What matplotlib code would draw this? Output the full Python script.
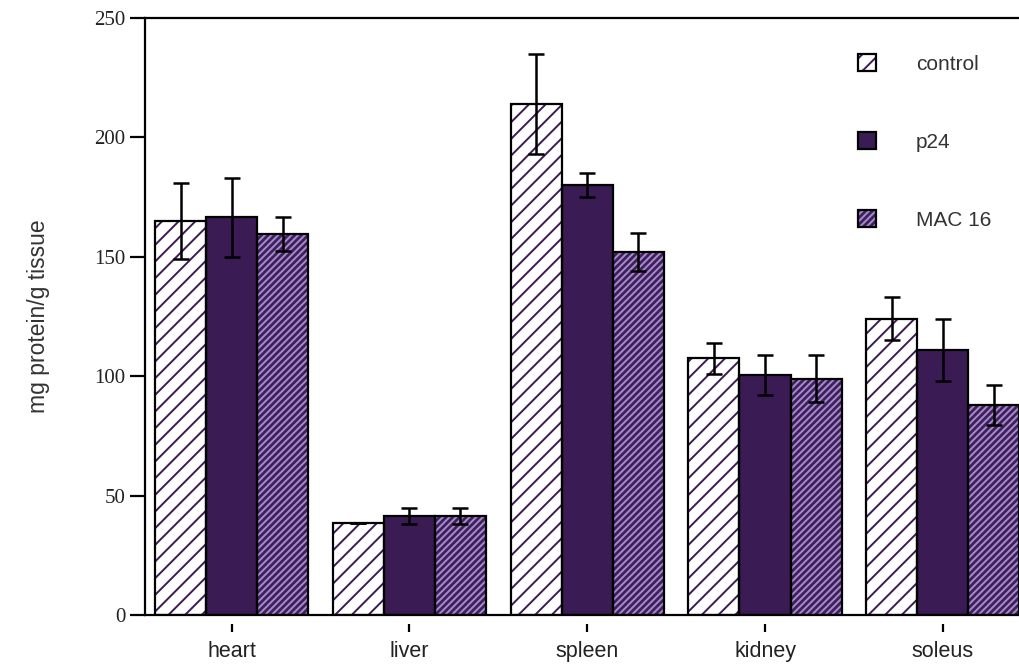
import matplotlib
matplotlib.use("Agg")
import matplotlib.pyplot as plt
import matplotlib.transforms as mtransforms
import numpy as np
from matplotlib.patches import Patch
from matplotlib.legend_handler import HandlerTuple

# Tissue protein content by treatment group
tissues = ["heart", "liver", "spleen", "kidney", "soleus"]
groups = ["control", "p24", "MAC 16"]

control = [165, 38.5, 214, 107.5, 124]
p24 = [166.5, 41.5, 180, 100.5, 111]
mac16 = [159.5, 41.5, 152, 99, 88]

control_err = [16, 0, 21, 6.5, 9]
p24_err = [16.5, 3.5, 5, 8.5, 13]
mac16_err = [7, 3.5, 8, 10, 8.5]

yticks = [0, 50, 100, 150, 200, 250]

DARK = "#3b1b53"
MID = "#40205c"
LAV = "#a58ccb"

plt.rcParams["hatch.linewidth"] = 1.4

fig = plt.figure(figsize=(10.19, 6.68), dpi=100)
ax = fig.add_axes([145 / 1019, 53 / 668, 1 - 145 / 1019 + 0.002, 597 / 668])

x = np.arange(len(tissues))
w = 0.287

styles = [
    dict(face="white", hatchcol=DARK, hatch="//"),
    dict(face=DARK, hatchcol=DARK, hatch=None),
    dict(face=MID, hatchcol=LAV, hatch="/////"),
]
series = [control, p24, mac16]
errs = [control_err, p24_err, mac16_err]

handles = []
for i, (vals, err, st) in enumerate(zip(series, errs, styles)):
    pos = x + (i - 1) * w
    # hatched fill
    ax.bar(pos, vals, width=w, color=st["face"], edgecolor=st["hatchcol"],
           hatch=st["hatch"], linewidth=0, zorder=2)
    # black outline
    ax.bar(pos, vals, width=w, facecolor="none", edgecolor="black",
           linewidth=1.6, zorder=3)
    ax.errorbar(pos, vals, yerr=err, fmt="none", ecolor="black",
                elinewidth=1.8, capsize=6, capthick=1.8, zorder=4)
    fill = Patch(facecolor=st["face"], edgecolor=st["hatchcol"],
                 hatch=st["hatch"], linewidth=0)
    outline = Patch(facecolor="none", edgecolor="black", linewidth=1.6)
    handles.append((fill, outline))

ax.set_xlim(-0.487, 4.44)
ax.set_ylim(0, 250)
ax.set_yticks(yticks)
ax.set_yticklabels([str(v) for v in yticks], fontfamily="Liberation Serif",
                   fontsize=15, color="#222222")
ax.set_xticks(x)
ax.set_xticklabels(tissues, fontfamily="Liberation Sans", fontsize=15.5,
                   color="#222222")

ax.tick_params(axis="y", direction="out", length=11, width=1.6, pad=3)
ax.tick_params(axis="x", length=0, pad=19)

# short detached marks below each group
mark_tr = mtransforms.offset_copy(ax.get_xaxis_transform(), fig=fig,
                                  y=-9, units="points")
ax.plot(x, np.zeros_like(x, dtype=float), linestyle="none", marker="|",
        markersize=6, markeredgewidth=1.6, color="black",
        transform=mark_tr, clip_on=False)

for s in ["left", "bottom", "top"]:
    ax.spines[s].set_linewidth(1.6)
ax.spines["right"].set_visible(False)

ax.set_ylabel("mg protein/g tissue", fontfamily="Liberation Sans",
              fontsize=16.5, color="#333333", labelpad=32)

leg = fig.legend(handles, groups,
                 handler_map={tuple: HandlerTuple(ndivide=1, pad=0)},
                 loc="upper left", bbox_to_anchor=(858 / 1019, 1 - 54 / 668),
                 frameon=False, borderpad=0, borderaxespad=0,
                 prop={"family": "Liberation Sans", "size": 15},
                 handlelength=0.88, handleheight=0.88, labelspacing=2.8,
                 handletextpad=1.9)
for t in leg.get_texts():
    t.set_color("#333333")

fig.savefig("out.png", dpi=100)
